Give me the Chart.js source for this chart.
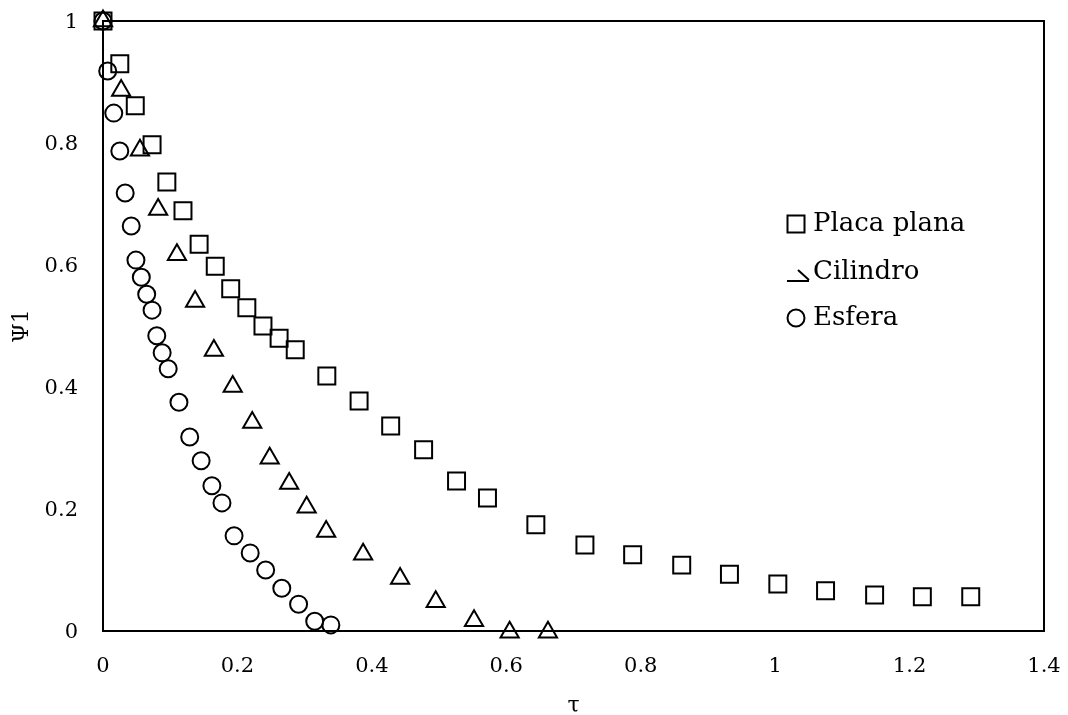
<!DOCTYPE html>
<html><head><meta charset="utf-8">
<script src="https://cdn.jsdelivr.net/npm/chart.js@4.4.0/dist/chart.umd.min.js"></script>
<style>html,body{margin:0;padding:0;background:#fff;}</style>
</head><body>
<canvas id="c" width="1068" height="715"></canvas>
<script>
const xTicks = [0, 0.2, 0.4, 0.6, 0.8, 1, 1.2, 1.4];
const yTicks = [0, 0.2, 0.4, 0.6, 0.8, 1];
const seriesLabels = ['Placa plana', 'Cilindro', 'Esfera'];
const xTitle = 'τ';
const yTitle = 'Ψ1';

const placaTau = [0, 0.025, 0.048, 0.073, 0.095, 0.119, 0.143, 0.167, 0.19, 0.214, 0.238, 0.262, 0.286, 0.333, 0.381, 0.428, 0.477, 0.526, 0.572, 0.644, 0.717, 0.788, 0.861, 0.932, 1.004, 1.075, 1.148, 1.219, 1.291];
const placaPsi = [1, 0.93, 0.861, 0.797, 0.736, 0.689, 0.634, 0.598, 0.561, 0.53, 0.5, 0.48, 0.461, 0.418, 0.377, 0.336, 0.297, 0.246, 0.218, 0.174, 0.141, 0.125, 0.108, 0.093, 0.077, 0.066, 0.059, 0.056, 0.056];

const cilTau = [0, 0.027, 0.055, 0.082, 0.11, 0.137, 0.165, 0.193, 0.222, 0.248, 0.277, 0.303, 0.332, 0.387, 0.442, 0.495, 0.552, 0.605, 0.662];
const cilPsi = [1, 0.886, 0.788, 0.691, 0.617, 0.54, 0.46, 0.401, 0.342, 0.283, 0.242, 0.203, 0.163, 0.126, 0.086, 0.048, 0.017, -0.002, -0.002];

const esfTau = [0, 0.007, 0.016, 0.025, 0.033, 0.042, 0.049, 0.057, 0.065, 0.073, 0.08, 0.088, 0.097, 0.113, 0.129, 0.146, 0.162, 0.177, 0.195, 0.219, 0.242, 0.266, 0.291, 0.315, 0.339];
const esfPsi = [1, 0.918, 0.849, 0.787, 0.718, 0.664, 0.608, 0.58, 0.552, 0.526, 0.484, 0.456, 0.43, 0.375, 0.318, 0.279, 0.238, 0.21, 0.156, 0.128, 0.1, 0.07, 0.044, 0.016, 0.01];

const pts = (xs, ys) => xs.map((x, i) => ({x: x, y: ys[i]}));
const fmt = v => String(Math.round(v * 10) / 10);
const zeroPad = s => { s.paddingTop = 0; s.paddingBottom = 0; s.paddingLeft = 0; s.paddingRight = 0; };

const borderPlugin = {
  id: 'plotBorder',
  beforeDatasetsDraw(chart) {
    const {ctx, chartArea: a} = chart;
    ctx.save();
    ctx.strokeStyle = '#000';
    ctx.lineWidth = 2;
    ctx.strokeRect(a.left, a.top, a.right - a.left, a.bottom - a.top);
    ctx.restore();
  }
};

const legendPlugin = {
  id: 'customLegend',
  afterDraw(chart) {
    const ctx = chart.ctx;
    const mx = 796, tx = 813;
    const rows = [224, 272, 318];
    ctx.save();
    ctx.strokeStyle = '#000';
    ctx.lineWidth = 2;
    ctx.strokeRect(mx - 8.5, rows[0] - 8.5, 17, 17);
    ctx.beginPath();
    ctx.moveTo(mx - 9, rows[1] + 9);
    ctx.lineTo(mx + 13, rows[1] + 9);
    ctx.moveTo(mx + 13, rows[1] + 8);
    ctx.lineTo(mx + 2, rows[1] - 2);
    ctx.stroke();
    ctx.beginPath();
    ctx.arc(mx, rows[2], 8.5, 0, Math.PI * 2);
    ctx.stroke();
    ctx.fillStyle = '#000';
    ctx.font = '26px "DejaVu Serif"';
    ctx.textBaseline = 'middle';
    ctx.textAlign = 'left';
    seriesLabels.forEach((t, i) => ctx.fillText(t, tx, rows[i]));
    ctx.restore();
  }
};

const common = {showLine: false, borderColor: '#000', backgroundColor: 'rgba(0,0,0,0)', borderWidth: 2, clip: false};

new Chart(document.getElementById('c'), {
  type: 'scatter',
  data: {
    datasets: [
      Object.assign({label: seriesLabels[0], data: pts(placaTau, placaPsi), pointStyle: 'rect', pointRadius: 12, pointHoverRadius: 12}, common),
      Object.assign({label: seriesLabels[1], data: pts(cilTau, cilPsi), pointStyle: 'triangle', pointRadius: 10.5, pointHoverRadius: 10.5}, common),
      Object.assign({label: seriesLabels[2], data: pts(esfTau, esfPsi), pointStyle: 'circle', pointRadius: 8.5, pointHoverRadius: 8.5}, common)
    ]
  },
  options: {
    responsive: false,
    devicePixelRatio: 1,
    animation: false,
    layout: {autoPadding: false, padding: {left: 0, right: 24, top: 21, bottom: 0}},
    plugins: {legend: {display: false}, tooltip: {enabled: false}},
    scales: {
      x: {
        type: 'linear', min: 0, max: 1.4,
        grid: {display: false, drawTicks: false}, border: {display: false},
        afterBuildTicks: s => { s.ticks = xTicks.map(v => ({value: v})); },
        afterFit: s => { s.height = 84; zeroPad(s); },
        ticks: {color: '#000', padding: 23, font: {family: 'DejaVu Serif', size: 21}, maxRotation: 0, callback: fmt},
        title: {display: true, text: xTitle, color: '#000', font: {family: 'DejaVu Serif', size: 22, lineHeight: 1}, padding: {top: 0, bottom: -2}}
      },
      y: {
        type: 'linear', min: 0, max: 1,
        grid: {display: false, drawTicks: false}, border: {display: false},
        afterBuildTicks: s => { s.ticks = yTicks.map(v => ({value: v})); },
        afterFit: s => { s.width = 103; zeroPad(s); },
        ticks: {color: '#000', padding: 25, labelOffset: 2, font: {family: 'DejaVu Serif', size: 21}, callback: fmt},
        title: {display: true, text: yTitle, color: '#000', font: {family: 'DejaVu Serif', size: 22, lineHeight: 1.2}, padding: {top: 9, bottom: 0}}
      }
    }
  },
  plugins: [borderPlugin, legendPlugin]
});
</script>
</body></html>
